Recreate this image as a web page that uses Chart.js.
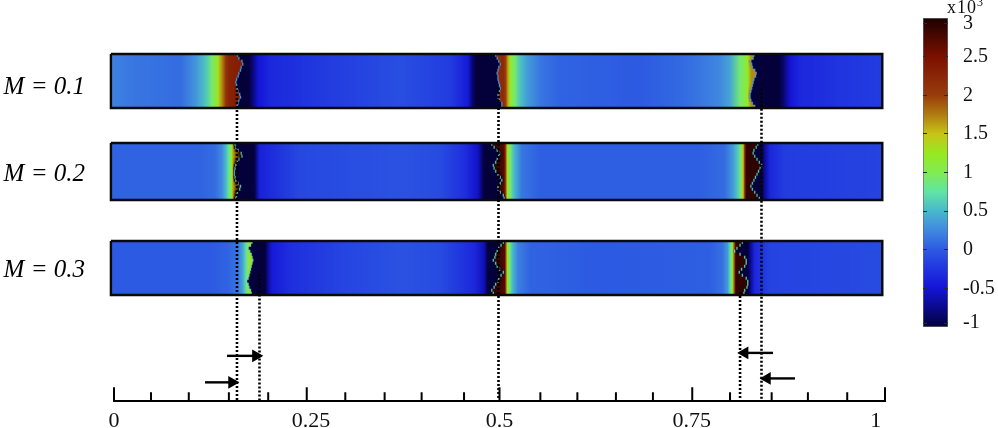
<!DOCTYPE html>
<html>
<head>
<meta charset="utf-8">
<script src="https://cdn.jsdelivr.net/npm/chart.js@4"></script>
<style>
  html, body { margin: 0; background: #fff; }
  #wrap { position: relative; width: 998px; height: 428px; overflow: hidden; }
  canvas { position: absolute; left: 0; top: 0; }
  #heat { filter: blur(0.6px); }
  #unit { position: absolute; left: 947px; top: -3px; font: 18px "Liberation Serif", serif; color: #111; letter-spacing: 1px; }
  #unit sup { font-size: 12px; line-height: 0; }
</style>
</head>
<body>
<div id="wrap">
  <canvas id="heat" width="998" height="428"></canvas>
  <canvas id="cbar" width="998" height="428"></canvas>
  <canvas id="axes" width="998" height="428"></canvas>
  <div id="unit">x10<sup>3</sup></div>
</div>
<script>
// ─── DATA ──────────────────────────
const stripLabels = ['M = 0.1', 'M = 0.2', 'M = 0.3'];
const stripLabelY = [82, 170, 268];
const stripTops   = [54, 143, 241];
const stripEdges  = [-0.004, 0.9965];

// colour scale, x10^3
const cmapValues = [-1, -0.75, -0.5, -0.25, 0, 0.25, 0.5, 0.75, 1, 1.25, 1.5, 1.75, 2, 2.5, 3];
const cmapColors = ['#04003a', '#0a0a8c', '#1414d6', '#2034e0', '#2c5ae2', '#4088e0', '#48b8cc', '#60e4a4',
                    '#80ec50', '#98e820', '#c8c418', '#b07c10', '#983c0c', '#7c1000', '#1c0000'];
const cbarTicks = [-0.95, -0.5, 0, 0.5, 1, 1.5, 2, 2.5, 2.93];
const cbarLabels = ['-1', '-0.5', '0', '0.5', '1', '1.5', '2', '2.5', '3'];

// profile stops [x, value] between the fronts
const m1Seg0 = [[-0.004,.22],[.025,.15],[.086,.1],[.105,.3],[.118,.55],[.127,.9],[.135,1.3],[.140,1.7],[.145,2.1],[.150,2.3],[.2,2.35]];
const m1Seg1 = [[.1,-1],[.174,-1],[.179,-.85],[.187,-.5],[.202,-.35],[.280,-.2],[.371,-.08],[.436,-.2],[.459,-.45],[.464,-.8],[.470,-1],[.52,-1]];
const m1Seg2 = [[.45,2.2],[.505,2.2],[.508,2],[.511,1.6],[.514,1.2],[.520,.9],[.527,.55],[.536,.35],[.553,.15],[.578,.05],[.682,0],[.734,.08],[.760,.15],[.786,.25],[.799,.4],[.812,.9],[.822,1.2],[.827,1.7],[.9,1.7]];
const m1Seg3 = [[.8,-1],[.862,-1],[.868,-.85],[.877,-.5],[.890,-.35],[.942,-.25],[.9965,-.2]];

const m2Seg0 = [[-0.004,.05],[.112,.05],[.131,.1],[.140,.25],[.145,.5],[.149,.8],[.153,1.2],[.154,1.6],[.2,2.9]];
const m2Seg1 = [[.1,-1],[.182,-1],[.184,-.8],[.189,-.4],[.241,-.12],[.371,-.05],[.423,-.1],[.455,-.3],[.472,-.55],[.479,-.95],[.481,-1],[.52,-1]];
const m2Seg2 = [[.45,2.9],[.506,2.7],[.508,2],[.510,1.3],[.514,.9],[.519,.5],[.529,.15],[.553,.02],[.760,.02],[.792,.1],[.803,.35],[.809,.6],[.813,.9],[.816,1.5],[.818,2.2],[.820,2.9],[.9,2.9]];
const m2Seg3 = [[.8,-1],[.840,-1],[.844,-.7],[.851,-.35],[.870,-.2],[.9965,-.15]];

const m3Seg0 = [[-0.004,0],[.125,0],[.148,.05],[.161,.15],[.167,.4],[.171,.7],[.174,1],[.2,1.4]];
const m3Seg1 = [[.1,-1],[.196,-1],[.200,-.7],[.205,-.45],[.228,-.3],[.293,-.15],[.371,-.05],[.423,-.1],[.468,-.35],[.480,-.6],[.485,-1],[.52,-1]];
const m3Seg2 = [[.45,2.9],[.507,2.7],[.508,2],[.510,1.3],[.513,.9],[.517,.5],[.524,.2],[.540,.05],[.630,0],[.773,.02],[.789,.12],[.796,.35],[.799,.7],[.802,1.1],[.804,1.8],[.806,2.7],[.807,2.9],[.9,2.9]];
const m3Seg3 = [[.78,-1],[.822,-1],[.826,-.7],[.831,-.35],[.851,-.15],[.9965,-.1]];

// front position per row of each strip
const m1Front1 = [.160,.162,.166,.167,.165,.164,.162,.161,.159,.158,.159,.160,.161,.163,.164,.162,.161,.160];
const m1Front2 = [.495,.497,.499,.501,.499,.498,.497,.498,.498,.499,.500,.501,.500,.498,.498,.500,.503,.503];
const m1Front3 = [.830,.829,.826,.827,.828,.831,.833,.832,.830,.829,.828,.827,.826,.825,.825,.826,.828,.831];

const m2Front1 = [.157,.158,.161,.165,.166,.162,.160,.158,.157,.156,.156,.157,.158,.161,.164,.163,.160,.159,.158];
const m2Front2 = [.490,.493,.497,.500,.499,.497,.495,.492,.493,.495,.498,.501,.503,.501,.498,.498,.501,.505,.506];
const m2Front3 = [.835,.833,.830,.829,.831,.834,.837,.840,.838,.836,.834,.832,.830,.828,.826,.828,.831,.834,.837];

const m3Front1 = [.179,.177,.174,.176,.178,.179,.180,.179,.178,.177,.176,.175,.174,.172,.174,.175,.177,.178];
const m3Front2 = [.505,.502,.499,.497,.495,.494,.492,.495,.497,.500,.505,.502,.499,.498,.495,.493,.490,.492];
const m3Front3 = [.815,.812,.808,.805,.812,.818,.820,.820,.818,.814,.811,.815,.820,.822,.822,.821,.818,.817];

const frontValue = [0.35, 0.6, 0.7];

// axis
const majorTicks = [0, 0.25, 0.5, 0.75, 1];
const minorTicks = [.048,.097,.149,.200,.300,.351,.399,.454,.553,.601,.651,.699,.799,.853,.900,.951];
const xLabels    = ['0', '0.25', '0.5', '0.75', '1'];
const xLabelAt   = [0, 0.2555, 0.5, 0.7495, 0.988];

// dotted guides
const guideX    = [.1595, .1887, .4987, .8398, .812];
const guideFrom = [80, 272, 82, 83, 290];
const guideTo   = [400, 400, 400, 399, 399];

// arrows
const arrowFrom = [.1466, .118, .8547, .8833];
const arrowTo   = [.184, .153, .818, .847];
const arrowY    = [355, 382, 352, 378];

const stripSegs   = [[m1Seg0, m1Seg1, m1Seg2, m1Seg3], [m2Seg0, m2Seg1, m2Seg2, m2Seg3], [m3Seg0, m3Seg1, m3Seg2, m3Seg3]];
const stripFronts = [[m1Front1, m1Front2, m1Front3], [m2Front1, m2Front2, m2Front3], [m3Front1, m3Front2, m3Front3]];

// ─── HELPERS ──────────────────────────
const ROW = 3, AXIS_Y = 401, EDGE = 0.0016;
const FONT = '"Liberation Serif", serif';

const hexRgb = h => [1, 3, 5].map(i => parseInt(h.slice(i, i + 2), 16));
function valueColor(v) {
  let i = cmapValues.findIndex(c => c >= v);
  if (i <= 0) return cmapColors[0];
  const t = (v - cmapValues[i - 1]) / (cmapValues[i] - cmapValues[i - 1]);
  const a = hexRgb(cmapColors[i - 1]), b = hexRgb(cmapColors[i]);
  return 'rgb(' + a.map((c, k) => Math.round(c + (b[k] - c) * t)).join(',') + ')';
}

// stops for one row: the profile between fronts, cut at this row's front positions
function rowStops(s, r) {
  const out = [];
  let prev = -Infinity;
  stripSegs[s].forEach((seg, k) => {
    const front = k < 3 ? stripFronts[s][k][r] : Infinity;
    if (k > 0) out.push([prev + EDGE, seg[0][1]]);
    seg.forEach(p => { if (p[0] > prev + EDGE && p[0] < front - EDGE) out.push(p); });
    if (k < 3) {
      const next = seg.find(p => p[0] >= front - EDGE);
      out.push([front - EDGE, next ? next[1] : seg[seg.length - 1][1]]);
      out.push([front, frontValue[s]]);
    }
    prev = front;
  });
  return out;
}

const rows = [];
stripTops.forEach((top, s) => {
  stripFronts[s][0].forEach((_, r) => rows.push({ s, r, x: stripEdges, y: top + ROW * (r + 0.5) }));
});

function rowGradient(ctx) {
  const row = rows[ctx.dataIndex];
  const xs = ctx.chart.scales.x;
  if (!row || !xs) return 'transparent';
  const x0 = xs.getPixelForValue(stripEdges[0]), x1 = xs.getPixelForValue(stripEdges[1]);
  if (!isFinite(x0) || !isFinite(x1)) return 'transparent';
  const g = ctx.chart.ctx.createLinearGradient(x0, 0, x1, 0);
  rowStops(row.s, row.r).forEach(([x, v]) => {
    const t = (x - stripEdges[0]) / (stripEdges[1] - stripEdges[0]);
    g.addColorStop(Math.min(1, Math.max(0, t)), valueColor(v));
  });
  return g;
}

function stripFrame(s) {
  const t = stripTops[s], b = t + ROW * stripFronts[s][0].length;
  const [l, r] = stripEdges;
  return {
    type: 'line', order: 0, clip: false, borderColor: '#0a0a0a', borderWidth: 2.4, pointRadius: 0,
    data: [{ x: l, y: t }, { x: r, y: t }, { x: r, y: b }, { x: l, y: b }, { x: l, y: t }],
  };
}

// ticks.padding also feeds the scale's end padding, so clear it to keep the plot box fixed
const noEndPadding = scale => { scale.paddingTop = 0; scale.paddingBottom = 0; };

const sharedX = { type: 'linear', min: 0, max: 1 };
const sharedY = { type: 'linear', min: 0, max: AXIS_Y, reverse: true, offset: false };
const quiet = { legend: { display: false }, tooltip: { enabled: false }, title: { display: false } };

// ─── CHARTS ──────────────────────────
// Strips
new Chart(document.getElementById('heat'), {
  type: 'bar',
  data: {
    datasets: [
      {
        order: 1, clip: false, data: rows, barThickness: ROW, borderWidth: 0, grouped: false,
        backgroundColor: rowGradient,
      },
      stripFrame(0), stripFrame(1), stripFrame(2),
    ],
  },
  options: {
    indexAxis: 'y', responsive: false, animation: false,
    layout: { padding: { left: 114, right: 113, top: 0, bottom: 27 } },
    plugins: quiet,
    scales: {
      x: { ...sharedX, display: false },
      y: { ...sharedY, display: false },
    },
  },
});

// Colour bar
new Chart(document.getElementById('cbar'), {
  type: 'bar',
  data: {
    labels: [''],
    datasets: [{
      data: [[cmapValues[0], cmapValues[cmapValues.length - 1]]],
      barPercentage: 1, categoryPercentage: 1,
      borderColor: '#666', borderWidth: 1, borderSkipped: false,
      backgroundColor(ctx) {
        const ys = ctx.chart.scales.y;
        if (!ys) return 'transparent';
        const lo = cmapValues[0], hi = cmapValues[cmapValues.length - 1];
        const y0 = ys.getPixelForValue(lo), y1 = ys.getPixelForValue(hi);
        if (!isFinite(y0) || !isFinite(y1)) return 'transparent';
        const g = ctx.chart.ctx.createLinearGradient(0, y0, 0, y1);
        cmapValues.forEach((v, i) => g.addColorStop((v - lo) / (hi - lo), cmapColors[i]));
        return g;
      },
    }],
  },
  options: {
    responsive: false, animation: false,
    layout: { padding: { left: 923, right: 0, top: 18, bottom: 101 } },
    plugins: quiet,
    scales: {
      x: { display: false },
      y: {
        position: 'right', min: -1, max: 3,
        afterFit(scale) { scale.width = 50; noEndPadding(scale); },
        afterBuildTicks(scale) { scale.ticks = cbarTicks.map(value => ({ value })); },
        border: { display: false, dash: [4, 17] },
        grid: { color: '#2a2a2a', drawTicks: false, z: 1 },
        ticks: {
          padding: 15, autoSkip: false, color: '#111',
          font: { family: FONT, size: 20 },
          callback: (v, i) => cbarLabels[i],
        },
      },
    },
  },
});

// Axis, guides, arrows, labels
const tickLine = (list, len) => list.flatMap(x => [{ x, y: AXIS_Y }, { x, y: AXIS_Y - len }, { x, y: null }]);
const arrowSets = arrowFrom.map((from, i) => ({
  borderColor: '#000', backgroundColor: '#000', borderWidth: 2.4, clip: false,
  pointRadius: c => (c.dataIndex === 1 ? 5 : 0),
  pointStyle: 'triangle',
  pointRotation: arrowTo[i] > from ? 90 : -90,
  data: [{ x: from, y: arrowY[i] }, { x: arrowTo[i], y: arrowY[i] }],
}));

new Chart(document.getElementById('axes'), {
  type: 'line',
  data: {
    datasets: [
      { data: tickLine(majorTicks, 14), borderColor: '#000', borderWidth: 2, pointRadius: 0, clip: false, spanGaps: false },
      { data: tickLine(minorTicks, 9), borderColor: '#000', borderWidth: 2, pointRadius: 0, clip: false, spanGaps: false },
      {
        data: guideX.flatMap((x, i) => [{ x, y: guideFrom[i] }, { x, y: guideTo[i] }, { x, y: null }]),
        borderColor: '#000', borderWidth: 2.6, borderDash: [2, 2], pointRadius: 0, spanGaps: false,
      },
      ...arrowSets,
    ],
  },
  options: {
    responsive: false, animation: false,
    layout: { padding: { left: 0, right: 113, top: 0, bottom: 0 } },
    plugins: quiet,
    scales: {
      x: {
        ...sharedX,
        afterFit(scale) { scale.height = 27; },
        afterBuildTicks(scale) { scale.ticks = xLabelAt.map(value => ({ value })); },
        border: { color: '#000', width: 2 },
        grid: { display: false, drawTicks: false },
        ticks: {
          padding: 7, maxRotation: 0, autoSkip: false, color: '#111',
          font: { family: FONT, size: 22 },
          callback: (v, i) => xLabels[i],
        },
      },
      y: {
        ...sharedY,
        afterFit(scale) { scale.width = 114; noEndPadding(scale); },
        afterBuildTicks(scale) { scale.ticks = stripLabelY.map(value => ({ value })); },
        border: { display: false },
        grid: { display: false, drawTicks: false },
        ticks: {
          padding: 29, autoSkip: false, color: '#000',
          font: { family: FONT, size: 25, style: 'italic' },
          callback: (v, i) => stripLabels[i],
        },
      },
    },
  },
});
</script>
</body>
</html>
